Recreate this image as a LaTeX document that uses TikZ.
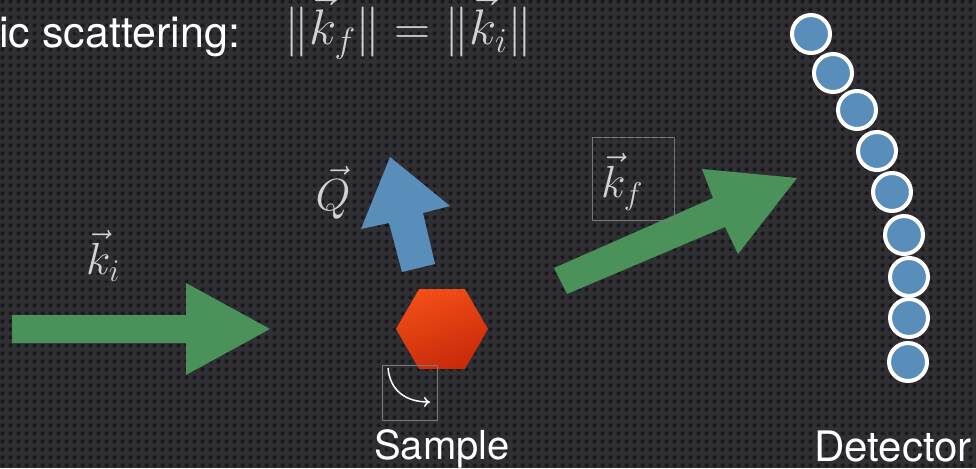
\RequirePackage{fix-cm}
\documentclass[tikz,border=0pt]{standalone}
\usepackage{fontspec}
\setmainfont{TeX Gyre Heros}
\usetikzlibrary{patterns.meta,arrows.meta}
\definecolor{bgcol}{RGB}{48,48,52}
\definecolor{dotcol}{RGB}{26,26,29}
\definecolor{arrgreen}{RGB}{74,145,90}
\definecolor{arrblue}{RGB}{90,142,186}
\definecolor{hexlight}{RGB}{242,78,22}
\definecolor{hexdark}{RGB}{200,42,10}
\definecolor{mathgray}{RGB}{210,210,210}
\definecolor{boxgray}{RGB}{120,120,120}
\tikzdeclarepattern{
  name=bgdots,
  type=uncolored,
  bounding box={(0pt,0pt) and (8pt,8pt)},
  tile size={(8pt,8pt)},
  code={\fill (4pt,4pt) circle (2.4pt);}
}
\tikzset{
  lbl/.style={text=white,inner sep=0pt,font=\fontsize{40}{44}\selectfont},
  mathlbl/.style={text=mathgray,inner sep=0pt,font=\fontsize{45}{48}\selectfont},
  det/.style={circle,fill=arrblue,draw=white,line width=4pt,minimum size=38pt,inner sep=0pt},
  faintbox/.style={draw=boxgray,line width=0.6pt},
  bigarrow/.style={fill=arrgreen}
}
\begin{document}
\begin{tikzpicture}[x=1pt,y=-1pt]
\useasboundingbox (0,0) rectangle (976,468);
\clip (0,0) rectangle (976,468);
\fill[bgcol] (0,0) rectangle (976,468);
\fill[pattern=bgdots,pattern color=dotcol] (0,0) rectangle (976,468);

% title
\node[lbl,anchor=base west,font=\fontsize{43}{47}\selectfont] (title) at (-1,48) {ic scattering:};
\node[mathgray,inner sep=0pt,anchor=base west,font=\fontsize{50}{54}\selectfont] (formula) at (284,45) {$\Vert\vec{k}_f\Vert = \Vert\vec{k}_i\Vert$};

% incoming beam
\fill[bigarrow] (12,315) -- (186,315) -- (186,283) -- (270,329) -- (186,375) -- (186,343) -- (12,343) -- cycle;
\node[mathlbl] (ki) at (103,256) {$\vec{k}_i$};

% Q arrow
\fill[arrblue] (390,157) -- (450,206) -- (423,213) -- (435,264) -- (402,272) -- (389,223) -- (361,229) -- cycle;
\node[mathlbl] (Q) at (333,193) {$\vec{Q}$};

% sample hexagon
\shade[top color=hexlight,bottom color=hexdark,shading angle=20]
  (488,329) -- (465,289.2) -- (419,289.2) -- (396,329) -- (419,368.8) -- (465,368.8) -- cycle;
\node[inner sep=0pt] (sample) at (442,329) {};

% rotation box
\node[faintbox,minimum width=55pt,minimum height=55pt,inner sep=0pt] (rotbox) at (409.5,392.5) {};
\coordinate (r1) at (388,368);
\coordinate (r2) at (430,402);
\draw[white,line width=1.5pt,-{To[length=6pt,width=10pt]}] (r1) .. controls (390,390) and (405,402) .. (r2);

% outgoing beam
\fill[bigarrow] (554,268) -- (713,198) -- (702,169) -- (797,178) -- (738,254) -- (725,227) -- (567,294) -- cycle;
\node[faintbox,minimum width=82pt,minimum height=83pt,inner sep=0pt] (kfbox) at (633,178.5) {};
\node[mathlbl] (kf) at (622,182) {$\vec{k}_f$};

% detector
\node[det] (d1) at (811,34) {};
\node[det] (d2) at (833,73) {};
\node[det] (d3) at (857,110) {};
\node[det] (d4) at (877,151) {};
\node[det] (d5) at (892,192) {};
\node[det] (d6) at (904,235) {};
\node[det] (d7) at (909,277) {};
\node[det] (d8) at (909,318) {};
\node[det] (d9) at (908,362) {};

% labels
\node[lbl,anchor=base] (samplelbl) at (442,459) {Sample};
\node[lbl,anchor=base,font=\fontsize{42}{46}\selectfont] (detlbl) at (893,461) {Detector};
\end{tikzpicture}
\end{document}
